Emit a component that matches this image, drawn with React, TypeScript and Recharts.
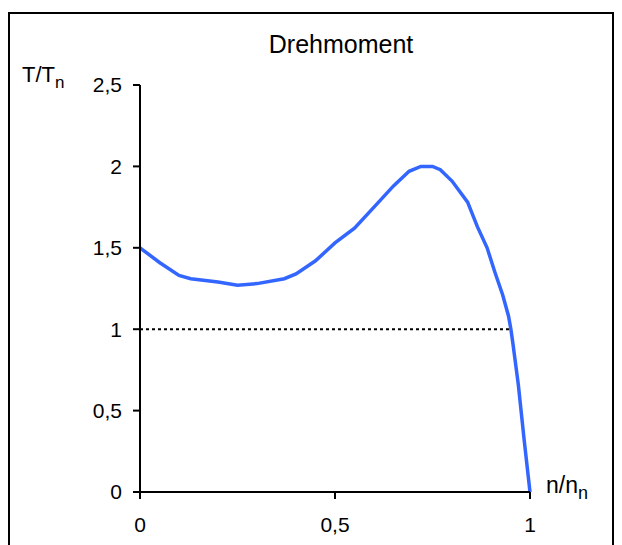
import { LineChart, Line, XAxis, YAxis, ReferenceLine } from 'recharts';

// relative speed n/nn and relative torque T/Tn
const speed = [0, 0.05, 0.1, 0.13, 0.2, 0.25, 0.3, 0.37, 0.4, 0.45, 0.5, 0.55, 0.6, 0.65, 0.69, 0.72, 0.75, 0.77, 0.8, 0.84, 0.865, 0.89, 0.91, 0.93, 0.945, 0.951, 0.956, 0.97, 0.985, 1.0];
const torque = [1.5, 1.41, 1.33, 1.31, 1.29, 1.27, 1.28, 1.31, 1.34, 1.42, 1.53, 1.62, 1.75, 1.88, 1.97, 2.0, 2.0, 1.98, 1.91, 1.78, 1.63, 1.5, 1.35, 1.21, 1.08, 1.0, 0.915, 0.66, 0.32, 0];

const xTicks = [0, 0.5, 1];
const yTicks = [0, 0.5, 1, 1.5, 2, 2.5];

// nominal torque line runs until it meets the curve
const nominalTorque = 1;
const nominalCrossing = 0.951;

const data = speed.map((s, i) => ({ s, t: torque[i] }));

const font = '"Liberation Sans", Arial, sans-serif';
const comma = (v: number) => String(v).replace('.', ',');

const YLabel = ({ viewBox }: any) => (
  <text x={viewBox.x - 58} y={viewBox.y - 3} fontFamily={font} fontSize={22} fill="#000">
    T/T<tspan fontSize={17} dy={6}>n</tspan>
  </text>
);

const XLabel = ({ viewBox }: any) => (
  <text x={viewBox.x + viewBox.width + 16} y={viewBox.y + 1} fontFamily={font} fontSize={23} fill="#000">
    n/n<tspan fontSize={18} dy={6}>n</tspan>
  </text>
);

export default function App() {
  return (
    <div style={{ position: 'absolute', left: 0, top: 0, width: 622, height: 545, background: '#fff', overflow: 'hidden' }}>
      <div style={{ position: 'absolute', left: 8, top: 12, width: 602, height: 560, border: '2px solid #000' }} />
      <div style={{ position: 'absolute', left: 0, top: 0 }}>
        <LineChart width={622} height={545} data={data} margin={{ top: 85, right: 92, left: 80, bottom: 0 }}>
          <text x={341} y={53} textAnchor="middle" fontFamily={font} fontSize={25} fill="#000">Drehmoment</text>
          <XAxis
            dataKey="s"
            type="number"
            domain={[0, 1]}
            ticks={xTicks}
            tickFormatter={comma}
            height={53}
            axisLine={{ stroke: '#000', strokeWidth: 2 }}
            tickLine={{ stroke: '#000', strokeWidth: 2 }}
            tickSize={7}
            tickMargin={18}
            tick={{ fill: '#000', fontSize: 21, fontFamily: font }}
            label={<XLabel />}
          />
          <YAxis
            type="number"
            domain={[0, 2.5]}
            ticks={yTicks}
            tickFormatter={comma}
            width={60}
            axisLine={{ stroke: '#000', strokeWidth: 2 }}
            tickLine={{ stroke: '#000', strokeWidth: 2 }}
            tickSize={7}
            tickMargin={11}
            tick={{ fill: '#000', fontSize: 21, fontFamily: font }}
            label={<YLabel />}
          />
          <ReferenceLine
            segment={[{ x: 0, y: nominalTorque }, { x: nominalCrossing, y: nominalTorque }]}
            stroke="#000"
            strokeWidth={2}
            strokeDasharray="3 3"
          />
          <Line type="linear" dataKey="t" stroke="#3366ff" strokeWidth={3.5} dot={false} isAnimationActive={false} />
        </LineChart>
      </div>
    </div>
  );
}
